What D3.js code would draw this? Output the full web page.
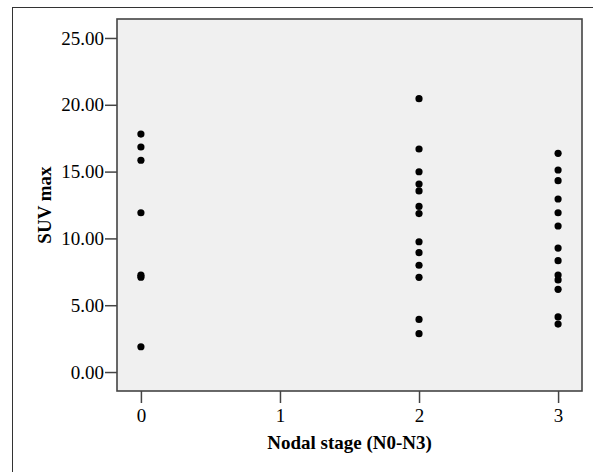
<!DOCTYPE html>
<html>
<head>
<meta charset="utf-8">
<script src="https://cdn.jsdelivr.net/npm/d3@7"></script>
<style>
  body { margin: 0; background: #fff; }
  svg { display: block; }
  text { font-family: "Liberation Serif", "Times New Roman", serif; }
</style>
</head>
<body>
<div id="chart"></div>
<script>
// nodal stage groups and SUV max values
var stageN0 = [17.81, 16.84, 15.85, 11.92, 7.25, 7.10, 1.89];
var stageN2 = [20.46, 16.69, 14.99, 14.07, 13.55, 12.39, 11.86, 9.75, 8.93, 7.99, 7.09, 3.94, 2.87];
var stageN3 = [16.37, 15.12, 14.32, 12.95, 11.92, 10.93, 9.28, 8.33, 7.26, 6.89, 6.19, 4.12, 3.59];
var xTicks = [0, 1, 2, 3];
var yTicks = [0, 5, 10, 15, 20, 25];

var width = 593, height = 472;
var plot = { left: 117, top: 19, right: 582, bottom: 391 };

var points = [];
[[0, stageN0], [2, stageN2], [3, stageN3]].forEach(function (g) {
    g[1].forEach(function (v) { points.push({ stage: g[0], suv: v }); });
});

var x = d3.scaleLinear()
    .domain([-0.172, 3.172])
    .range([plot.left, plot.right]);

var y = d3.scaleLinear()
    .domain([-1.42, 26.42])
    .range([plot.bottom, plot.top]);

var svg = d3.select("#chart").append("svg")
    .attr("width", width)
    .attr("height", height);

// outer frame
svg.append("rect")
    .attr("x", 12.5).attr("y", 7.5)
    .attr("width", 600).attr("height", 500)
    .attr("fill", "none")
    .attr("stroke", "#333")
    .attr("stroke-width", 1);

// plot area
svg.append("rect")
    .attr("x", plot.left).attr("y", plot.top)
    .attr("width", plot.right - plot.left)
    .attr("height", plot.bottom - plot.top)
    .attr("fill", "#f0f0f0")
    .attr("stroke", "#444")
    .attr("stroke-width", 1.6);

var yAxis = d3.axisLeft(y)
    .tickValues(yTicks)
    .tickSize(12)
    .tickPadding(1)
    .tickFormat(d3.format(".2f"));

var xAxis = d3.axisBottom(x)
    .tickValues(xTicks)
    .tickSize(12)
    .tickPadding(6)
    .tickFormat(d3.format("d"));

var gy = svg.append("g")
    .attr("transform", "translate(" + plot.left + ",0)")
    .call(yAxis);

var gx = svg.append("g")
    .attr("transform", "translate(0," + plot.bottom + ")")
    .call(xAxis);

[gx, gy].forEach(function (g) {
    g.attr("font-family", "Liberation Serif, serif").attr("font-size", 19);
    g.select(".domain").remove();
    g.selectAll(".tick line").attr("stroke", "#444").attr("stroke-width", 1.5);
    g.selectAll(".tick text").attr("fill", "#000");
});

svg.append("g")
    .selectAll("circle")
    .data(points)
    .enter().append("circle")
    .attr("cx", function (d) { return x(d.stage); })
    .attr("cy", function (d) { return y(d.suv); })
    .attr("r", 3.6)
    .attr("fill", "#000");

// axis titles
svg.append("text")
    .attr("x", (plot.left + plot.right) / 2)
    .attr("y", 449)
    .attr("text-anchor", "middle")
    .style("font-size", "19px")
    .style("font-weight", "bold")
    .text("Nodal stage (N0-N3)");

svg.append("text")
    .attr("transform", "translate(51," + (plot.top + plot.bottom) / 2 + ") rotate(-90)")
    .attr("text-anchor", "middle")
    .style("font-size", "19px")
    .style("font-weight", "bold")
    .text("SUV max");
</script>
</body>
</html>
